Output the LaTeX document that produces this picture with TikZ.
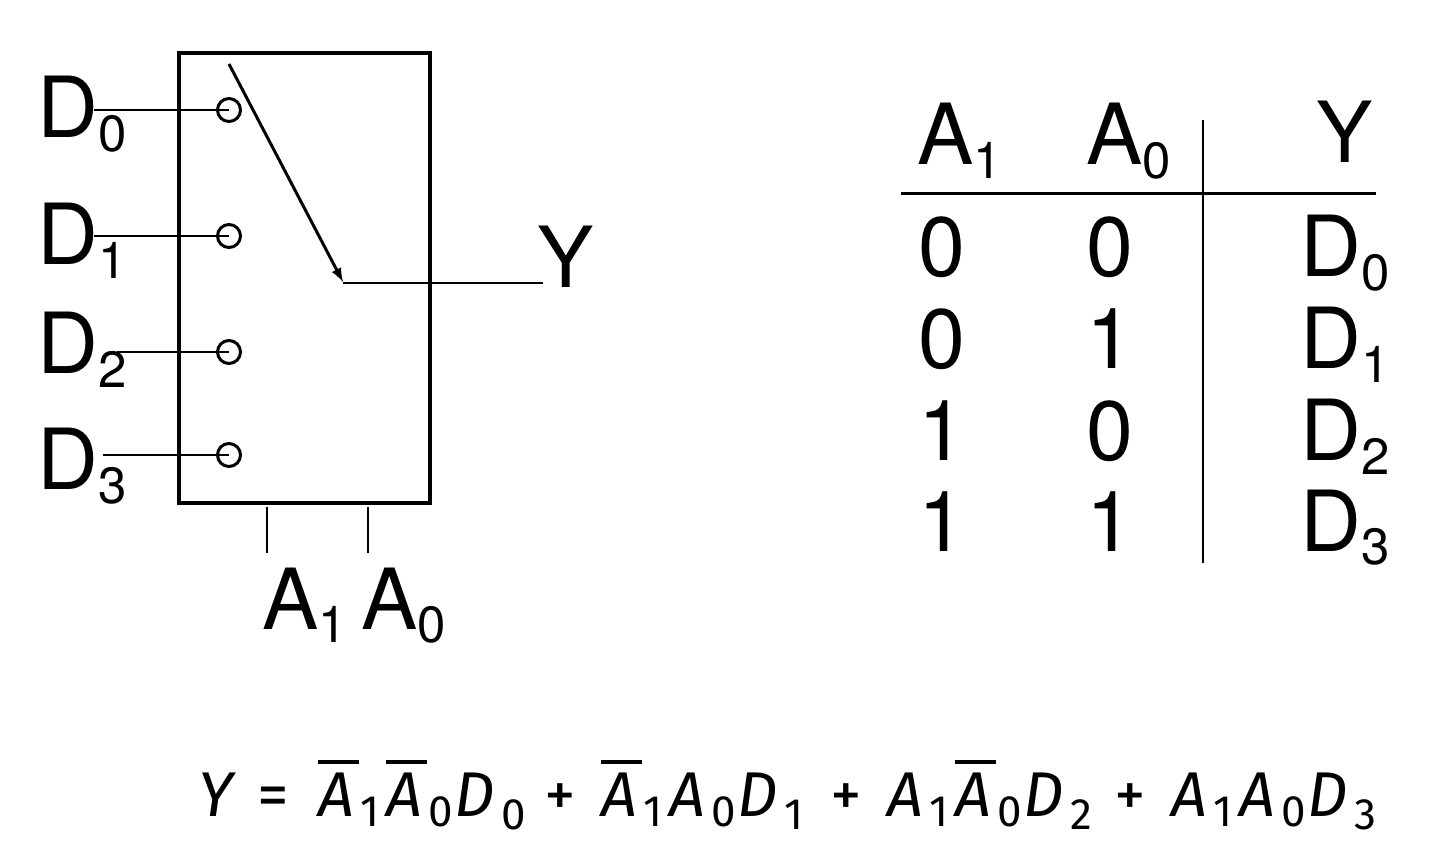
\documentclass[tikz,border=0pt]{standalone}
\usepackage{fontspec}
\setmainfont{TeX Gyre Heros}
\newfontfamily\eqfont{Fira Sans}
\usetikzlibrary{calc}
\newcommand{\sigsub}[2]{#1\raisebox{-0.28cm}{\fontsize{29}{29}\selectfont #2}}
\newcommand{\eqbar}{\rlap{\rule[1.04cm]{0.82cm}{0.08cm}}}
\newcommand{\eqsubA}[1]{\makebox[1.36cm][l]{\itshape A\hspace{0.12cm}\raisebox{-0.2cm}{\fontsize{25}{25}\upshape\selectfont #1}}}
\newcommand{\eqsubD}[2][1.80cm]{\makebox[#1][l]{\itshape D\hspace{0.14cm}\raisebox{-0.26cm}{\fontsize{25}{25}\upshape\selectfont #2}}}
\newcommand{\eqplus}{\makebox[1.14cm][l]{+}}
\begin{document}
\begin{tikzpicture}[x=0.02cm,y=-0.02cm,
        lbl/.style={inner sep=0pt,font=\fontsize{48}{48}\selectfont,anchor=base west},
        cell/.style={inner sep=0pt,font=\fontsize{48}{48}\selectfont,anchor=base},
        pin/.style={circle,draw,line width=1.7pt,minimum size=0.46cm,inner sep=0pt},
        wire/.style={line width=1.7pt},
        frame/.style={line width=2.3pt},
        tick/.style={line width=1.1pt}
    ]
        \useasboundingbox (0,0) rectangle (1450,854);
        \node[draw,frame,minimum width=5.02cm,minimum height=9cm,inner sep=0pt] (mux) at (304.5,278) {};

        % inputs
        \node[lbl] (d0) at (37,138) {\sigsub{D}{0}};
        \node[lbl] (d1) at (37,265) {\sigsub{D}{1}};
        \node[lbl] (d2) at (37,374) {\sigsub{D}{2}};
        \node[lbl] (d3) at (37,490) {\sigsub{D}{3}};
        \node[pin] (p0) at (229,110) {};
        \node[pin] (p1) at (229,236) {};
        \node[pin] (p2) at (229,352) {};
        \node[pin] (p3) at (229,455) {};
        \coordinate (w0) at (94,110);
        \coordinate (w1) at (94,236);
        \coordinate (w2) at (117,352);
        \coordinate (w3) at (103,455);
        \draw[wire] (w0) -- (p0.center);
        \draw[wire] (w1) -- (p1.center);
        \draw[wire] (w2) -- (p2.center);
        \draw[wire] (w3) -- (p3.center);

        % output and switch arm
        \node[lbl] (y) at (537,288) {Y};
        \coordinate (arm) at (229,64);
        \coordinate (tip) at (343,282);
        \coordinate (yend) at (543,283);
        \draw[wire,-latex] (arm) -- (tip);
        \draw[wire] (343,283) -- (yend);

        % select lines
        \node[lbl] (a1) at (262,629) {\sigsub{A}{1}};
        \node[lbl] (a0) at (361,629) {\sigsub{A}{0}};
        \coordinate (s1) at (267,507);
        \coordinate (s0) at (368,507);
        \draw[tick] (s1) -- (267,553);
        \draw[tick] (s0) -- (368,553);

        % table
        \node[cell] (ha1) at (960,165) {\sigsub{A}{1}};
        \node[cell] (ha0) at (1129,165) {\sigsub{A}{0}};
        \node[cell] (hy) at (1345,163) {Y};
        \foreach \row/\ya/\yb/\yy/\n in {0/0/0/277/0,1/0/1/369/1,2/1/0/461/2,3/1/1/551/3} {
            \node[cell] (a\row) at (942,\yy) {\ya};
            \node[cell] (b\row) at (1110,\yy) {\yb};
            \node[cell] (c\row) at (1345,\yy) {\sigsub{D}{\n}};
        }
        \coordinate (hl) at (901,193.5);
        \coordinate (hr) at (1376,193.5);
        \coordinate (vt) at (1203,120);
        \coordinate (vb) at (1203,563);
        \draw[wire] (hl) -- (hr);
        \draw[tick] (vt) -- (vb);

        % equation
        \node[inner sep=0pt,font=\eqfont\fontsize{36}{36}\selectfont,anchor=base west] (eq) at (198,816)
            {\makebox[1.18cm][l]{\itshape Y}\makebox[1.22cm][l]{=}\eqbar\eqsubA{1}\eqbar\eqsubA{0}\eqsubD{0}\eqplus\eqbar\eqsubA{1}\eqsubA{0}\eqsubD[1.86cm]{1}\eqplus\eqsubA{1}\eqbar\eqsubA{0}\eqsubD[1.82cm]{2}\eqplus\eqsubA{1}\eqsubA{0}\eqsubD{3}};
    \end{tikzpicture}
\end{document}
